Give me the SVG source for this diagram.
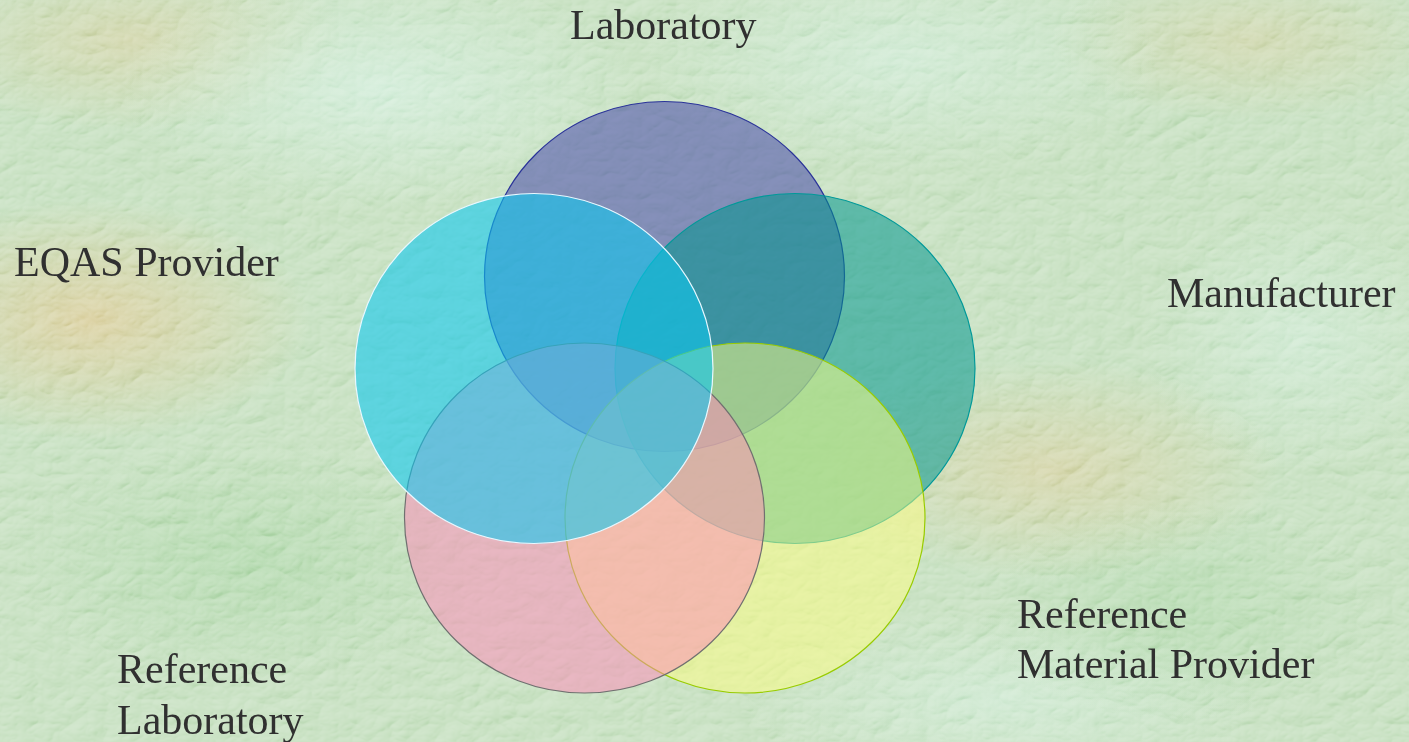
<svg xmlns="http://www.w3.org/2000/svg" width="1409" height="742" viewBox="0 0 1409 742">
  <defs>
    <radialGradient id="blotchTan" cx="0.5" cy="0.5" r="0.5">
      <stop offset="0" stop-color="#dcd0a0" stop-opacity="0.95"/>
      <stop offset="1" stop-color="#dcd0a0" stop-opacity="0"/>
    </radialGradient>
    <radialGradient id="blotchMint" cx="0.5" cy="0.5" r="0.5">
      <stop offset="0" stop-color="#d4eedc" stop-opacity="0.9"/>
      <stop offset="1" stop-color="#d4eedc" stop-opacity="0"/>
    </radialGradient>
    <radialGradient id="blotchGreen" cx="0.5" cy="0.5" r="0.5">
      <stop offset="0" stop-color="#a8d6a4" stop-opacity="0.8"/>
      <stop offset="1" stop-color="#a8d6a4" stop-opacity="0"/>
    </radialGradient>
    <!-- embossed leathery paper grain -->
    <filter id="emboss" x="0" y="0" width="100%" height="100%" color-interpolation-filters="sRGB">
      <feTurbulence type="turbulence" baseFrequency="0.028 0.04" numOctaves="3" seed="11" result="noise"/>
      <feDiffuseLighting in="noise" surfaceScale="3" diffuseConstant="1" lighting-color="#ffffff" result="light">
        <feDistantLight azimuth="235" elevation="45"/>
      </feDiffuseLighting>
    </filter>
    <style>
      .label { font-family: "Liberation Serif", "Times New Roman", serif; font-size: 42px; fill: #303030; }
      .ring { stroke-width: 1.2; }
    </style>
  </defs>

  <!-- paper background -->
  <g id="background">
    <rect x="0" y="0" width="1409" height="742" fill="#c6e0c0"/>
    <ellipse cx="90" cy="320" rx="220" ry="120" fill="url(#blotchTan)"/>
    <ellipse cx="130" cy="40" rx="220" ry="90" fill="url(#blotchTan)" opacity="0.6"/>
    <ellipse cx="1050" cy="470" rx="230" ry="110" fill="url(#blotchTan)" opacity="0.7"/>
    <ellipse cx="1250" cy="40" rx="200" ry="80" fill="url(#blotchTan)" opacity="0.5"/>
    <ellipse cx="380" cy="90" rx="260" ry="120" fill="url(#blotchMint)"/>
    <ellipse cx="900" cy="60" rx="260" ry="110" fill="url(#blotchMint)" opacity="0.8"/>
    <ellipse cx="1300" cy="340" rx="160" ry="130" fill="url(#blotchMint)" opacity="0.7"/>
    <ellipse cx="1000" cy="700" rx="260" ry="90" fill="url(#blotchMint)" opacity="0.7"/>
    <ellipse cx="250" cy="560" rx="240" ry="120" fill="url(#blotchGreen)" opacity="0.7"/>
    <ellipse cx="1180" cy="610" rx="200" ry="110" fill="url(#blotchGreen)" opacity="0.6"/>
    <rect x="0" y="0" width="1409" height="742" filter="url(#emboss)" opacity="0.5" style="mix-blend-mode: soft-light"/>
  </g>

  <!-- overlapping stakeholder circles, drawn back to front -->
  <g id="node-laboratory">
    <ellipse class="ring" cx="664.5" cy="276.5" rx="180" ry="175" fill="#3a3aa8" fill-opacity="0.5" stroke="#2a3399"/>
  </g>
  <g id="node-manufacturer">
    <ellipse class="ring" cx="795" cy="368.5" rx="180" ry="175" fill="#00958f" fill-opacity="0.54" stroke="#009999"/>
  </g>
  <g id="node-reference-material-provider">
    <ellipse class="ring" cx="745" cy="518" rx="180" ry="175" fill="#ffff80" fill-opacity="0.5" stroke="#99cc00"/>
  </g>
  <g id="node-reference-laboratory">
    <ellipse class="ring" cx="584.5" cy="518" rx="180" ry="175" fill="#ff88b8" fill-opacity="0.5" stroke="#707070"/>
  </g>
  <g id="node-eqas-provider">
    <ellipse class="ring" cx="534" cy="368.5" rx="179" ry="175" fill="#0cc8f0" fill-opacity="0.58" stroke="#e8f8ff"/>
  </g>

  <g id="connectors"/>

  <!-- labels -->
  <g id="labels">
    <text class="label" x="570" y="39">Laboratory</text>
    <text class="label" x="14" y="276">EQAS Provider</text>
    <text class="label" x="1167" y="307">Manufacturer</text>
    <text class="label" x="1017" y="628">Reference</text>
    <text class="label" x="1017" y="678">Material Provider</text>
    <text class="label" x="117" y="683">Reference</text>
    <text class="label" x="117" y="734">Laboratory</text>
  </g>
</svg>
